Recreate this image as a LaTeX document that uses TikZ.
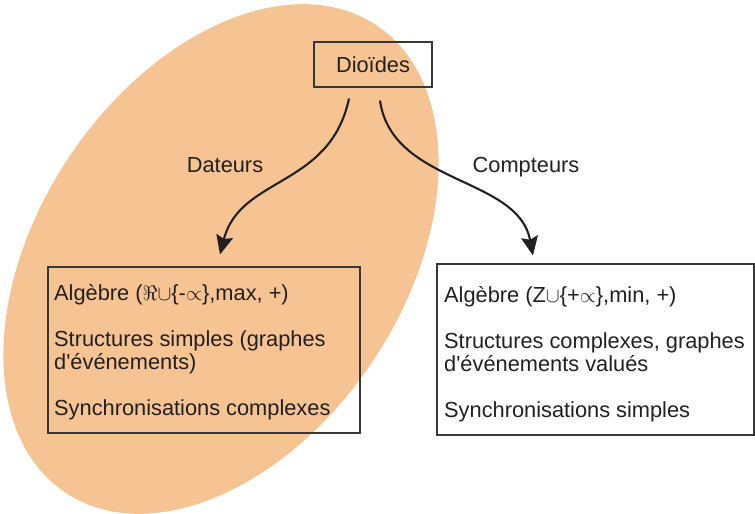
\documentclass[tikz,border=0pt]{standalone}
\usepackage{fontspec}
\setmainfont{Liberation Sans}[Ligatures=TeXOff]
\usetikzlibrary{arrows.meta,calc}
\definecolor{peach}{RGB}{245,196,146}
\definecolor{ink}{RGB}{35,31,32}
\definecolor{frame}{RGB}{55,55,55}
\begin{document}
\begin{tikzpicture}[x=1pt,y=-1pt,
  every node/.style={text=ink,font=\fontsize{21.8}{23}\selectfont},
  boxed/.style={draw=frame,line width=1.1pt,rectangle,inner sep=0pt},
  branch/.style={draw=ink,line width=2.1pt,-{Stealth[length=19pt,width=17pt,inset=3pt]}},
  tag/.style={anchor=base}]
  \useasboundingbox (0,0) rectangle (755,514);

  % shaded region grouping the Dateurs side
  \fill[peach,rotate around={56.4:(221,259)}] (221,259) ellipse [x radius=280.7pt, y radius=183pt];

  % root
  \node[boxed,minimum width=118pt,minimum height=45pt] (dio) at (373,64.5) {Dioïdes};

  % the two families
  \node[boxed,minimum width=312pt,minimum height=166pt] (lbox) at (204,350) {};
  \node[anchor=north west,align=left,inner sep=0pt] (ltxt) at (54,284)
    {Algèbre ($\Re\cup$\{-$\propto$\},max, +)\\[23pt]
     Structures simples (graphes\\
     d'événements)\\[23pt]
     Synchronisations complexes};

  \node[boxed,minimum width=317pt,minimum height=171pt] (rbox) at (595.5,349.5) {};
  \node[anchor=north west,align=left,inner sep=0pt] (rtxt) at (444,286)
    {Algèbre (Z$\cup$\{+$\propto$\},min, +)\\[23pt]
     Structures complexes, graphes\\
     d'événements valués\\[23pt]
     Synchronisations simples};

  % arrow end points
  \coordinate (s1) at ($(dio.south)+(-24,11)$);
  \coordinate (e1) at ($(lbox.north)+(16,-12)$);
  \coordinate (s2) at ($(dio.south)+(7,13)$);
  \coordinate (e2) at ($(rbox.north)+(-62.5,-8)$);

  \draw[branch] (s1) .. controls (330,188) and (240,176) .. (e1);
  \draw[branch] (s2) .. controls (392,185) and (518,176) .. (e2);

  \node[tag] (dat) at (225,172) {Dateurs};
  \node[tag] (cpt) at (526,172) {Compteurs};
\end{tikzpicture}
\end{document}
